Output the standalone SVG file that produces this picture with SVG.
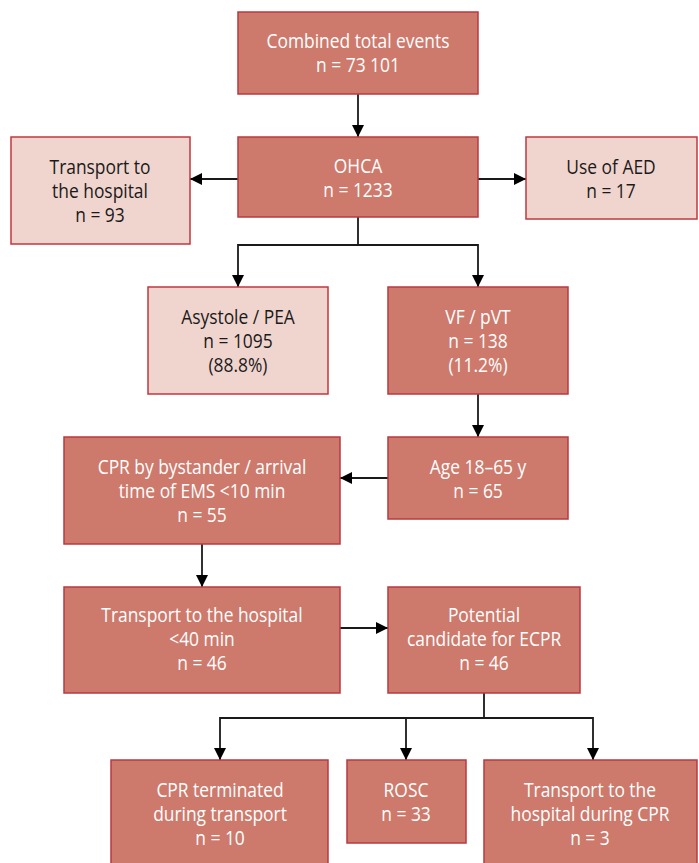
<svg xmlns="http://www.w3.org/2000/svg" width="699" height="863" viewBox="0 0 699 863">
<style>
.dark{fill:#CD7A6C;stroke:#B93A40;stroke-width:1.5}
.light{fill:#F0D4CE;stroke:#C0393F;stroke-width:1.5}
text{font-family:"Open Sans","Liberation Sans",sans-serif;font-size:20px;text-anchor:middle;dominant-baseline:central;transform-box:fill-box;transform-origin:center;transform:scaleX(0.87)}
.dark-t{fill:#FFFFFF}
.light-t{fill:#1A1A1A}
.conn{fill:none;stroke:#1A1A1A;stroke-width:1.8}
</style>
<defs>
<marker id="ah" viewBox="0 0 12 12" refX="12" refY="6" markerWidth="12" markerHeight="12" markerUnits="userSpaceOnUse" orient="auto">
<path d="M0,0 L12,6 L0,12 Z" fill="#000"/>
</marker>
</defs>
<g id="connectors">
<path class="conn" d="M358,94 V137" marker-end="url(#ah)"/>
<path class="conn" d="M238,179 H190" marker-end="url(#ah)"/>
<path class="conn" d="M478,179 H526" marker-end="url(#ah)"/>
<path class="conn" d="M358,217 V245 H238 V287" marker-end="url(#ah)"/>
<path class="conn" d="M358,245 H478 V287" marker-end="url(#ah)"/>
<path class="conn" d="M478,394 V437" marker-end="url(#ah)"/>
<path class="conn" d="M388,478 H340" marker-end="url(#ah)"/>
<path class="conn" d="M202,544 V587" marker-end="url(#ah)"/>
<path class="conn" d="M340,628 H388" marker-end="url(#ah)"/>
<path class="conn" d="M484,693 V718 H220 V760" marker-end="url(#ah)"/>
<path class="conn" d="M406,718 V760" marker-end="url(#ah)"/>
<path class="conn" d="M484,718 H593 V760" marker-end="url(#ah)"/>
</g>
<g id="combined">
<rect class="dark" x="238" y="12" width="240" height="82"/>
<text class="dark-t" x="358" y="40">Combined total events</text>
<text class="dark-t" x="358" y="64">n = 73 101</text>
</g>
<g id="ohca">
<rect class="dark" x="238" y="137" width="240" height="80"/>
<text class="dark-t" x="358" y="165">OHCA</text>
<text class="dark-t" x="358" y="189">n = 1233</text>
</g>
<g id="transport1">
<rect class="light" x="11" y="137" width="179" height="107"/>
<text class="light-t" x="100" y="166">Transport to</text>
<text class="light-t" x="100" y="190">the hospital</text>
<text class="light-t" x="100" y="214">n = 93</text>
</g>
<g id="aed">
<rect class="light" x="526" y="137" width="171" height="82"/>
<text class="light-t" x="611" y="166">Use of AED</text>
<text class="light-t" x="611" y="190">n = 17</text>
</g>
<g id="asystole">
<rect class="light" x="148" y="287" width="180" height="107"/>
<text class="light-t" x="238" y="316">Asystole / PEA</text>
<text class="light-t" x="238" y="340">n = 1095</text>
<text class="light-t" x="238" y="364">(88.8%)</text>
</g>
<g id="vf">
<rect class="dark" x="388" y="287" width="180" height="107"/>
<text class="dark-t" x="478" y="316">VF / pVT</text>
<text class="dark-t" x="478" y="340">n = 138</text>
<text class="dark-t" x="478" y="364">(11.2%)</text>
</g>
<g id="age">
<rect class="dark" x="388" y="437" width="180" height="82"/>
<text class="dark-t" x="478" y="466">Age 18–65 y</text>
<text class="dark-t" x="478" y="490">n = 65</text>
</g>
<g id="bystander">
<rect class="dark" x="64" y="437" width="276" height="107"/>
<text class="dark-t" x="202" y="466">CPR by bystander / arrival</text>
<text class="dark-t" x="202" y="490">time of EMS &lt;10 min</text>
<text class="dark-t" x="202" y="514">n = 55</text>
</g>
<g id="transport40">
<rect class="dark" x="64" y="587" width="276" height="106"/>
<text class="dark-t" x="202" y="614">Transport to the hospital</text>
<text class="dark-t" x="202" y="638">&lt;40 min</text>
<text class="dark-t" x="202" y="662">n = 46</text>
</g>
<g id="potential">
<rect class="dark" x="388" y="587" width="192" height="106"/>
<text class="dark-t" x="484" y="614">Potential</text>
<text class="dark-t" x="484" y="638">candidate for ECPR</text>
<text class="dark-t" x="484" y="662">n = 46</text>
</g>
<g id="terminated">
<rect class="dark" x="111" y="760" width="217" height="106"/>
<text class="dark-t" x="220" y="789">CPR terminated</text>
<text class="dark-t" x="220" y="813">during transport</text>
<text class="dark-t" x="220" y="837">n = 10</text>
</g>
<g id="rosc">
<rect class="dark" x="347" y="760" width="119" height="83"/>
<text class="dark-t" x="406" y="789">ROSC</text>
<text class="dark-t" x="406" y="813">n = 33</text>
</g>
<g id="transportcpr">
<rect class="dark" x="484" y="760" width="213" height="106"/>
<text class="dark-t" x="590" y="789">Transport to the</text>
<text class="dark-t" x="590" y="813">hospital during CPR</text>
<text class="dark-t" x="590" y="837">n = 3</text>
</g>
</svg>
